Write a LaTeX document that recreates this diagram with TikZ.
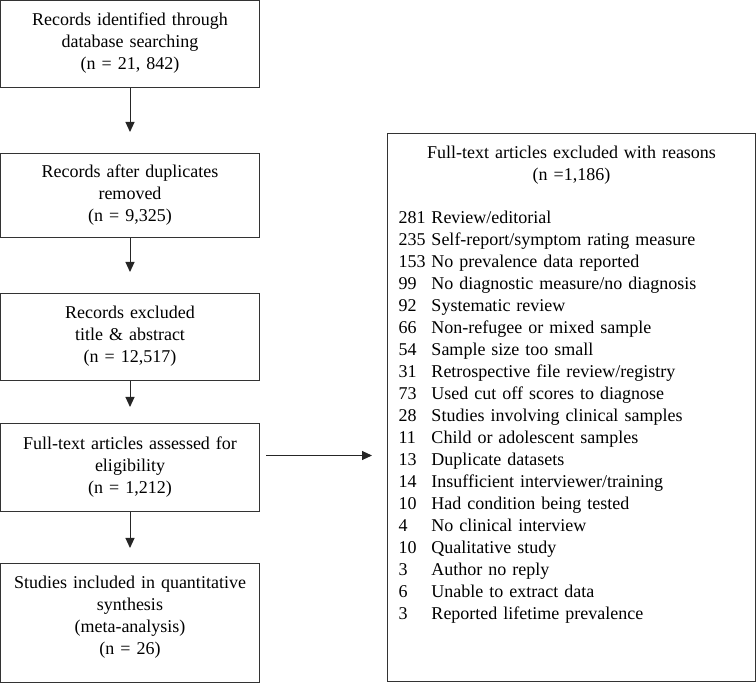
\documentclass[tikz,border=0pt]{standalone}
\usepackage{fontspec}
\setmainfont{Liberation Serif}
\usetikzlibrary{positioning,arrows.meta}

\newcommand{\reason}[2]{\makebox[33pt][l]{#1}#2\\}

\begin{document}
\begin{tikzpicture}[x=1pt,y=1pt,
    box/.style={draw=black!80, line width=1pt, align=center, text width=245pt,
      inner xsep=7pt, inner ysep=0pt, font=\fontsize{18}{22}\selectfont},
    stepbox/.style={box, text depth=49pt},
    arr/.style={-{Triangle[length=10pt,width=9pt]}, draw=black!85, line width=1pt}]

    \useasboundingbox (0,0) rectangle (756,-684);

    % Add the boxes of the left column
    \node[stepbox, minimum height=87pt, anchor=north] (ident) at (130,0)
      {Records identified through\\ database searching\\ (n = 21, 842)};
    \node[stepbox, minimum height=84pt, below=65pt of ident] (dupl)
      {Records after duplicates\\ removed\\ (n = 9,325)};
    \node[stepbox, minimum height=87pt, below=55pt of dupl] (screen)
      {Records excluded\\ title \& abstract\\ (n = 12,517)};
    \node[stepbox, minimum height=88pt, below=42pt of screen] (full)
      {Full-text articles assessed for\\ eligibility\\ (n = 1,212)};
    \node[stepbox, minimum height=119pt, text depth=82pt, below=51pt of full] (incl)
      {Studies included in quantitative\\ synthesis\\ (meta-analysis)\\ (n = 26)};

    % Add the box with the reasons
    \node[box, anchor=north west, text width=346pt, inner xsep=11pt, align=left] (excl) at (387,-133)
      {\parbox[c][548pt][t]{346pt}{\vspace*{13pt}%
        {\centering Full-text articles excluded with reasons\\ (n =1,186)\par}
        \vspace{21pt}\raggedright
        \reason{281}{Review/editorial}
        \reason{235}{Self-report/symptom rating measure}
        \reason{153}{No prevalence data reported}
        \reason{99}{No diagnostic measure/no diagnosis}
        \reason{92}{Systematic review}
        \reason{66}{Non-refugee or mixed sample}
        \reason{54}{Sample size too small}
        \reason{31}{Retrospective file review/registry}
        \reason{73}{Used cut off scores to diagnose}
        \reason{28}{Studies involving clinical samples}
        \reason{11}{Child or adolescent samples}
        \reason{13}{Duplicate datasets}
        \reason{14}{Insufficient interviewer/training}
        \reason{10}{Had condition being tested}
        \reason{4}{No clinical interview}
        \reason{10}{Qualitative study}
        \reason{3}{Author no reply}
        \reason{6}{Unable to extract data}
        \makebox[33pt][l]{3}Reported lifetime prevalence}};

    % Connect the boxes with arrows
    \coordinate (out) at ([yshift=12pt]full.east);
    \draw[arr, shorten >=21pt] (ident) -- (dupl);
    \draw[arr, shorten >=21pt] (dupl) -- (screen);
    \draw[arr, shorten >=16pt] (screen) -- (full);
    \draw[arr, shorten >=15pt] (full) -- (incl);
    \draw[arr, shorten <=6pt, shorten >=15pt] (out) -- (out -| excl.west);

\end{tikzpicture}
\end{document}
